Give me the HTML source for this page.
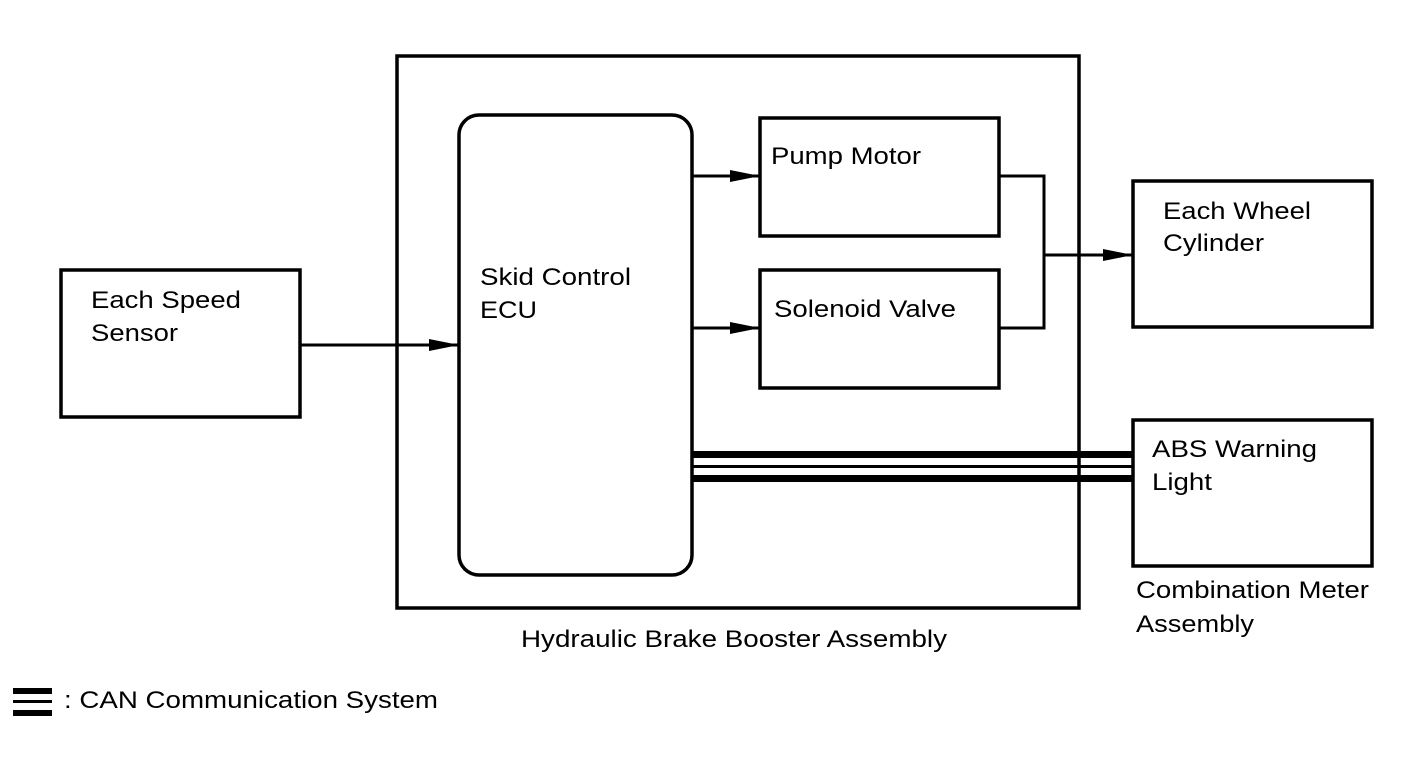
<!DOCTYPE html>
<html><head><style>body{margin:0;background:#fff}svg text{font-family:"Liberation Sans",Arial,sans-serif;font-size:24px;fill:#000}</style></head><body>
<svg width="1424" height="759" xmlns="http://www.w3.org/2000/svg">
<defs><marker id="a" markerWidth="30" markerHeight="14" refX="30" refY="7" orient="auto" markerUnits="userSpaceOnUse"><path d="M0,1 L30,7 L0,13 Z" fill="#000"/></marker></defs>
<g fill="none" stroke="#000" stroke-width="3.5">
<rect x="397" y="56" width="682" height="552"/>
<rect x="459" y="115" width="233" height="460" rx="20"/>
<rect x="760" y="118" width="239" height="118"/>
<rect x="760" y="270" width="239" height="118"/>
<rect x="1133" y="181" width="239" height="146"/>
<rect x="1133" y="420" width="239" height="146"/>
<rect x="61" y="270" width="239" height="147"/>
<line x1="300" y1="345" x2="459" y2="345" marker-end="url(#a)" stroke-width="3"/>
<line x1="692" y1="176" x2="760" y2="176" marker-end="url(#a)" stroke-width="3"/>
<line x1="692" y1="328" x2="760" y2="328" marker-end="url(#a)" stroke-width="3"/>
<polyline points="999,176 1044,176 1044,328 999,328" stroke-width="3"/>
<line x1="1044" y1="255" x2="1133" y2="255" marker-end="url(#a)" stroke-width="3"/>
</g>
<g fill="#000">
<rect x="692" y="451" width="441" height="7"/>
<rect x="692" y="465" width="441" height="3"/>
<rect x="692" y="475" width="441" height="7"/>
<rect x="13" y="688" width="39" height="6"/>
<rect x="13" y="700" width="39" height="3"/>
<rect x="13" y="710" width="39" height="6"/>
</g>
<g lengthAdjust="spacingAndGlyphs">
<text x="91" y="308" textLength="150" lengthAdjust="spacingAndGlyphs">Each Speed</text><text x="91" y="341" textLength="87" lengthAdjust="spacingAndGlyphs">Sensor</text>
<text x="480" y="285" textLength="151" lengthAdjust="spacingAndGlyphs">Skid Control</text><text x="480" y="318" textLength="57" lengthAdjust="spacingAndGlyphs">ECU</text>
<text x="771" y="164" textLength="150" lengthAdjust="spacingAndGlyphs">Pump Motor</text>
<text x="774" y="317" textLength="182" lengthAdjust="spacingAndGlyphs">Solenoid Valve</text>
<text x="1163" y="219" textLength="148" lengthAdjust="spacingAndGlyphs">Each Wheel</text><text x="1163" y="251" textLength="101" lengthAdjust="spacingAndGlyphs">Cylinder</text>
<text x="1152" y="457" textLength="165" lengthAdjust="spacingAndGlyphs">ABS Warning</text><text x="1152" y="490" textLength="60" lengthAdjust="spacingAndGlyphs">Light</text>
<text x="1136" y="598" textLength="233" lengthAdjust="spacingAndGlyphs">Combination Meter</text><text x="1136" y="632" textLength="118" lengthAdjust="spacingAndGlyphs">Assembly</text>
<text x="521" y="647" textLength="426" lengthAdjust="spacingAndGlyphs">Hydraulic Brake Booster Assembly</text>
<text x="64" y="708" textLength="374" lengthAdjust="spacingAndGlyphs">: CAN Communication System</text>
</g>
</svg></body></html>
